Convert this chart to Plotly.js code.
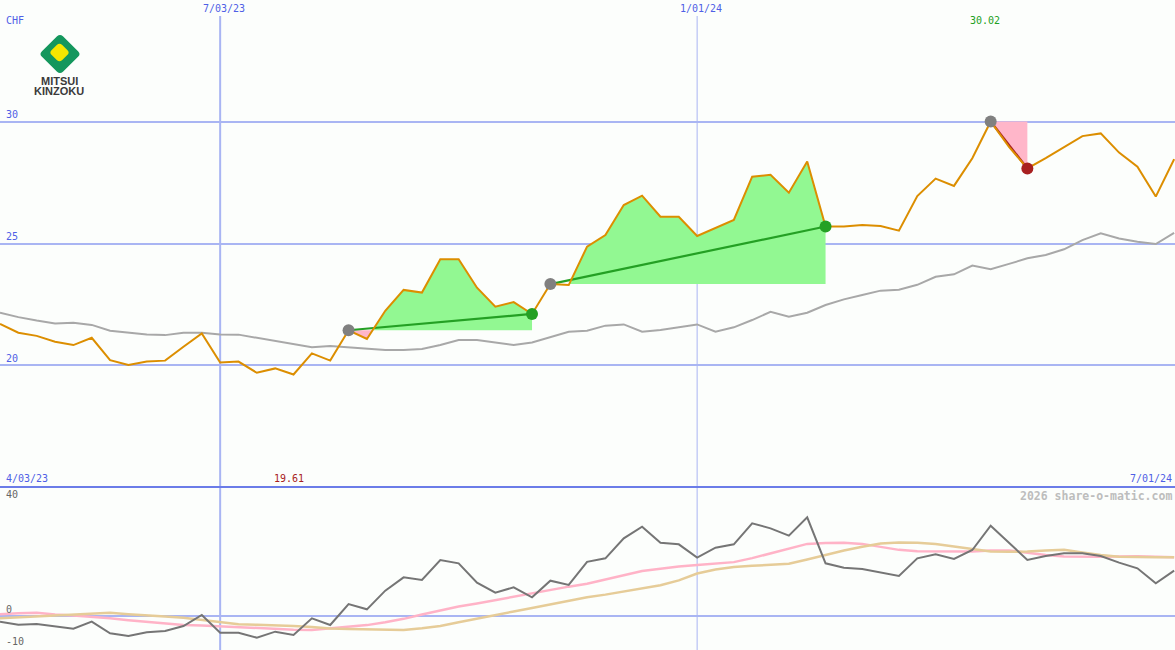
<!DOCTYPE html>
<html>
<head>
<meta charset="utf-8">
<script src="https://cdn.plot.ly/plotly-3.0.1.min.js"></script>
<style>
  html, body { margin: 0; padding: 0; background: #fcfefc; }
  #chart { width: 1175px; height: 650px; }
</style>
</head>
<body>
<div id="chart"></div>
<script>
// ---------------- DATA ----------------
const dates = [
  '2023-04-10','2023-04-17','2023-04-24','2023-05-01','2023-05-08','2023-05-15','2023-05-22','2023-05-29',
  '2023-06-05','2023-06-12','2023-06-19','2023-06-26','2023-07-03','2023-07-10','2023-07-17','2023-07-24',
  '2023-07-31','2023-08-07','2023-08-14','2023-08-21','2023-08-28','2023-09-04','2023-09-11','2023-09-18',
  '2023-09-25','2023-10-02','2023-10-09','2023-10-16','2023-10-23','2023-10-30','2023-11-06','2023-11-13',
  '2023-11-20','2023-11-27','2023-12-04','2023-12-11','2023-12-18','2023-12-25','2024-01-01','2024-01-08',
  '2024-01-15','2024-01-22','2024-01-29','2024-02-05','2024-02-12','2024-02-19','2024-02-26','2024-03-04',
  '2024-03-11','2024-03-18','2024-03-25','2024-04-01','2024-04-08','2024-04-15','2024-04-22','2024-04-29',
  '2024-05-06','2024-05-13','2024-05-20','2024-05-27','2024-06-03','2024-06-10','2024-06-17','2024-06-24',
  '2024-07-01'
];

// weekly close (CHF)
const price = [
  21.69, 21.33, 21.20, 20.96, 20.82, 21.12, 20.20, 20.00, 20.14, 20.18,
  20.75, 21.30, 20.10, 20.14, 19.68, 19.86, 19.61, 20.48, 20.18, 21.43,
  21.07, 22.23, 23.09, 22.98, 24.35, 24.35, 23.18, 22.40, 22.59, 22.10,
  23.33, 23.29, 24.87, 25.35, 26.58, 26.97, 26.10, 26.10, 25.31, 25.63,
  25.97, 27.75, 27.83, 27.09, 28.37, 25.70, 25.70, 25.76, 25.72, 25.53,
  26.95, 27.67, 27.37, 28.51, 30.02, 28.98, 28.09, 28.51, 28.98, 29.42,
  29.53, 28.74, 28.16, 26.93, 28.47
];

// moving average (grey)
const avgLine = [
  22.15, 21.97, 21.83, 21.71, 21.74, 21.65, 21.41, 21.33, 21.26, 21.23,
  21.33, 21.33, 21.26, 21.25, 21.12, 20.99, 20.86, 20.73, 20.78, 20.72,
  20.66, 20.62, 20.62, 20.66, 20.82, 21.03, 21.03, 20.93, 20.82, 20.93,
  21.14, 21.37, 21.41, 21.62, 21.67, 21.37, 21.44, 21.55, 21.67, 21.37,
  21.55, 21.85, 22.19, 21.99, 22.15, 22.47, 22.70, 22.88, 23.06, 23.10,
  23.30, 23.63, 23.73, 24.09, 23.94, 24.16, 24.39, 24.53, 24.76, 25.14,
  25.42, 25.21, 25.07, 24.98, 25.44
];

// lower panel: oscillator (dark grey)
const oscMain = [
  -1.99, -3.04, -2.81, -3.51, -4.44, -1.99, -6.08, -7.02, -5.73, -5.26,
  -3.51,  0.35, -5.85, -5.85, -7.60, -5.50, -6.67, -0.82, -3.16,  4.20,
   2.34,  8.89, 13.57, 12.63, 19.65, 18.48, 11.70,  8.19, 10.06,  6.55,
  12.40, 10.88, 19.00, 20.23, 27.25, 31.35, 25.73, 25.15, 20.47, 23.98,
  25.15, 32.51, 30.76, 28.19, 34.62, 18.48, 16.96, 16.49, 15.20, 14.04,
  20.23, 21.64, 20.00, 23.16, 31.70, 25.73, 19.65, 21.05, 22.00, 22.00,
  21.05, 18.71, 16.73, 11.46, 15.90
];

// lower panel: signal (pink)
const oscPink = [
   0.6,  1.0,  1.1,  0.5,  0.2, -0.2, -0.8, -1.5, -2.1, -2.7,
  -3.2, -3.3, -3.6, -4.0, -4.3, -4.6, -4.8, -4.9, -4.4, -3.8,
  -3.2, -2.2, -1.0,  0.5,  2.0,  3.3,  4.4,  5.6,  6.8,  7.9,
   9.0, 10.3, 11.3, 12.8, 14.5, 15.8, 16.6, 17.4, 17.9, 18.3,
  18.9, 20.3, 21.9, 23.5, 25.3, 25.6, 25.7, 25.3, 24.2, 23.2,
  22.7, 22.6, 22.6, 22.6, 23.0, 23.0, 22.2, 21.4, 20.9, 20.8,
  20.8, 20.9, 21.0, 20.8, 20.6
];

// lower panel: slow signal (tan)
const oscTan = [
  -0.8, -0.5, -0.2,  0.1,  0.4,  0.9,  1.1,  0.6,  0.3, -0.2,
  -0.6, -1.3, -2.2, -2.9, -3.1, -3.2, -3.5, -3.9, -4.4, -4.6,
  -4.7, -4.9, -4.9, -4.3, -3.5, -2.2, -0.9,  0.5,  1.6,  2.8,
   4.1,  5.4,  6.6,  7.5,  8.6,  9.6, 10.8, 12.5, 14.9, 16.3,
  17.2, 17.6, 17.9, 18.3, 19.8, 21.4, 23.0, 24.3, 25.4, 25.8,
  25.7, 25.3, 24.4, 23.3, 22.6, 22.5, 22.6, 23.0, 23.2, 22.3,
  21.4, 20.8, 20.6, 20.6, 20.6
];

// trend segments (indices into the weekly series)
const trendStart = [19, 30, 54];
const trendEnd   = [29, 45, 56];

// labels
const currency = 'CHF';
const priceTicks = [20, 25, 30];
const oscLabels = [40, 0, -10];
const oscGrid = [0];
const gridDates = ['2023-07-03', '2024-01-01'];
const gridDateLabels = ['7/03/23', '1/01/24'];
const rangeLabels = ['4/03/23', '7/01/24'];
const credit = '2026 share-o-matic.com';
const logoLines = ['MITSUI', 'KINZOKU'];

// ---------------- CHART ----------------
const W = 1175, H = 650;
const split = 487;                       // px: top of lower panel
const splitPaper = (H - split) / H;
const xRange = ['2023-04-10', '2024-07-01 08:00'];
const px2x = px => px / W;
const py2y = py => 1 - py / H;

const BLUE_TXT = '#4f5fe6';
const GRID = '#a9b5f3';
const MONO = 'DejaVu Sans Mono, monospace';

const traces = [];
const t = dates.map(d => Date.parse(d));

// filled regions between the price and the trend start level
function region(a, b, base, above) {
  const xs = [], ys = [];
  for (let i = a; i <= b; i++) {
    if (i > a) {
      const p0 = price[i - 1], p1 = price[i];
      if ((p0 - base) * (p1 - base) < 0) {
        const tc = t[i - 1] + (base - p0) / (p1 - p0) * (t[i] - t[i - 1]);
        xs.push(tc); ys.push(base);
      }
    }
    xs.push(t[i]);
    ys.push(above ? Math.max(price[i], base) : Math.min(price[i], base));
  }
  xs.push(t[b], t[a], t[a]);
  ys.push(base, base, above ? Math.max(price[a], base) : Math.min(price[a], base));
  return xs.map((x, k) => [x, ys[k]]);
}

trendStart.forEach((a, k) => {
  const b = trendEnd[k];
  const base = price[a];
  const up = region(a, b, base, true);
  const dn = region(a, b, base, false);
  traces.push({
    x: up.map(p => p[0]), y: up.map(p => p[1]), type: 'scatter', mode: 'lines',
    fill: 'toself', fillcolor: '#92f892', line: { width: 0 }, hoverinfo: 'skip', xaxis: 'x', yaxis: 'y'
  });
  traces.push({
    x: dn.map(p => p[0]), y: dn.map(p => p[1]), type: 'scatter', mode: 'lines',
    fill: 'toself', fillcolor: '#ffb6c9', line: { width: 0 }, hoverinfo: 'skip', xaxis: 'x', yaxis: 'y'
  });
});

// moving average
traces.push({
  x: t, y: avgLine, type: 'scatter', mode: 'lines',
  line: { color: '#a8a8a8', width: 2 }, xaxis: 'x', yaxis: 'y'
});

// trend lines (under price)
trendStart.forEach((a, k) => {
  const b = trendEnd[k];
  const rising = price[b] >= price[a];
  traces.push({
    x: [t[a], t[b]], y: [price[a], price[b]], type: 'scatter', mode: 'lines',
    line: { color: rising ? '#24a024' : '#a82020', width: 2.2 }, xaxis: 'x', yaxis: 'y'
  });
});

// price
traces.push({
  x: t, y: price, type: 'scatter', mode: 'lines',
  line: { color: '#dc8e00', width: 2 }, xaxis: 'x', yaxis: 'y'
});

// markers
trendStart.forEach((a, k) => {
  const b = trendEnd[k];
  const rising = price[b] >= price[a];
  traces.push({
    x: [t[a]], y: [price[a]], type: 'scatter', mode: 'markers',
    marker: { color: '#808080', size: 12 }, xaxis: 'x', yaxis: 'y'
  });
  traces.push({
    x: [t[b]], y: [price[b]], type: 'scatter', mode: 'markers',
    marker: { color: rising ? '#24a024' : '#a82020', size: 12 }, xaxis: 'x', yaxis: 'y'
  });
});

// lower panel
traces.push({ x: t, y: oscPink, type: 'scatter', mode: 'lines',
  line: { color: '#ffb3c7', width: 2.5 }, xaxis: 'x', yaxis: 'y2' });
traces.push({ x: t, y: oscTan, type: 'scatter', mode: 'lines',
  line: { color: '#e6cc98', width: 2.5 }, xaxis: 'x', yaxis: 'y2' });
traces.push({ x: t, y: oscMain, type: 'scatter', mode: 'lines',
  line: { color: '#757575', width: 2 }, xaxis: 'x', yaxis: 'y2' });

// ---------------- SHAPES ----------------
const shapes = [];
gridDates.forEach((d, k) => {
  shapes.push({ type: 'line', xref: 'x', yref: 'paper', x0: d, x1: d, y0: 0, y1: py2y(16),
    line: { color: GRID, width: k === 0 ? 2 : 1 }, layer: 'below' });
});
shapes.push({ type: 'line', xref: 'paper', yref: 'paper', x0: 0, x1: 1, y0: splitPaper, y1: splitPaper,
  line: { color: '#6b7ce8', width: 2 }, layer: 'below' });

// logo
function roundedDiamond(cx, cy, hw, hh, f) {
  const pts = [[cx, cy - hh], [cx + hw, cy], [cx, cy + hh], [cx - hw, cy]];
  const lerp = (p, q, s) => [p[0] + (q[0] - p[0]) * s, p[1] + (q[1] - p[1]) * s];
  const P = p => px2x(p[0]).toFixed(6) + ',' + py2y(p[1]).toFixed(6);
  let path = '';
  for (let i = 0; i < 4; i++) {
    const c = pts[i], prev = pts[(i + 3) % 4], next = pts[(i + 1) % 4];
    const s = lerp(c, prev, f), e = lerp(c, next, f);
    path += (i === 0 ? 'M' : 'L') + P(s) + ' Q' + P(c) + ' ' + P(e) + ' ';
  }
  return path + 'Z';
}
shapes.push({ type: 'path', xref: 'paper', yref: 'paper', path: roundedDiamond(60, 54, 21, 20.5, 0.14),
  fillcolor: '#14975d', line: { width: 0 } });
shapes.push({ type: 'path', xref: 'paper', yref: 'paper', path: roundedDiamond(59.5, 52.5, 10.5, 10, 0.26),
  fillcolor: '#f6e600', line: { width: 0 } });

// ---------------- ANNOTATIONS ----------------
const annotations = [];
function pann(text, px, py, color, xanchor, size, family) {
  annotations.push({ xref: 'paper', yref: 'paper', x: px2x(px), y: py2y(py), text: text,
    showarrow: false, xanchor: xanchor, yanchor: 'middle',
    font: { family: family || MONO, size: size || 10, color: color } });
}
pann(currency, 4, 21, BLUE_TXT, 'left');
priceTicks.forEach(v => {
  annotations.push({ xref: 'paper', yref: 'y', x: px2x(4), y: v, yshift: 7, text: String(v),
    showarrow: false, xanchor: 'left', yanchor: 'middle', font: { family: MONO, size: 10, color: BLUE_TXT } });
});
oscLabels.forEach(v => {
  annotations.push({ xref: 'paper', yref: 'y2', x: px2x(4), y: v, yshift: v === -10 ? 3 : 7, text: String(v),
    showarrow: false, xanchor: 'left', yanchor: 'middle', font: { family: MONO, size: 10, color: '#666666' } });
});
gridDates.forEach((d, k) => {
  annotations.push({ xref: 'x', yref: 'paper', x: d, y: py2y(9), xshift: 4, text: gridDateLabels[k],
    showarrow: false, xanchor: 'center', yanchor: 'middle', font: { family: MONO, size: 10, color: BLUE_TXT } });
});
pann(rangeLabels[0], 4, 478, BLUE_TXT, 'left');
pann(rangeLabels[1], 1174, 478, BLUE_TXT, 'right');
pann('<b>' + credit + '</b>', 1174, 496, '#bdbdbd', 'right', 11.5);

// high / low labels
const hiIdx = price.indexOf(Math.max(...price));
const loIdx = price.indexOf(Math.min(...price));
annotations.push({ xref: 'x', yref: 'paper', x: t[hiIdx], y: py2y(21), xshift: -6,
  text: price[hiIdx].toFixed(2), showarrow: false, xanchor: 'center', yanchor: 'middle',
  font: { family: MONO, size: 10, color: '#22a022' } });
annotations.push({ xref: 'x', yref: 'paper', x: t[loIdx], y: py2y(478), xshift: -5,
  text: price[loIdx].toFixed(2), showarrow: false, xanchor: 'center', yanchor: 'middle',
  font: { family: MONO, size: 10, color: '#a82020' } });

// logo text
const LOGOFONT = 'Liberation Sans Narrow, Arial Narrow, Liberation Sans, sans-serif';
pann('<b>' + logoLines[0] + '</b>', 59, 81, '#3a3a3a', 'center', 11, LOGOFONT);
pann('<b>' + logoLines[1] + '</b>', 59, 91, '#3a3a3a', 'center', 11, LOGOFONT);

const layout = {
  width: W, height: H,
  margin: { l: 0, r: 0, t: 0, b: 0, pad: 0 },
  paper_bgcolor: '#fcfefc', plot_bgcolor: '#fcfefc',
  showlegend: false,
  hovermode: false,
  xaxis: { type: 'date', range: xRange, domain: [0, 1], anchor: 'y2',
    showgrid: false, zeroline: false, showticklabels: false, showline: false, ticks: '' },
  yaxis: { domain: [splitPaper, 1], range: [14.98, 35.02], anchor: 'x',
    tickvals: priceTicks, showgrid: true, gridcolor: GRID, gridwidth: 2,
    zeroline: false, showticklabels: false, showline: false, ticks: '' },
  yaxis2: { domain: [0, splitPaper], range: [-11.93, 45.26], anchor: 'x',
    tickvals: oscGrid, showgrid: true, gridcolor: GRID, gridwidth: 2,
    zeroline: false, showticklabels: false, showline: false, ticks: '' },
  shapes: shapes,
  annotations: annotations
};

Plotly.newPlot('chart', traces, layout, { displayModeBar: false, staticPlot: true });
</script>
</body>
</html>
